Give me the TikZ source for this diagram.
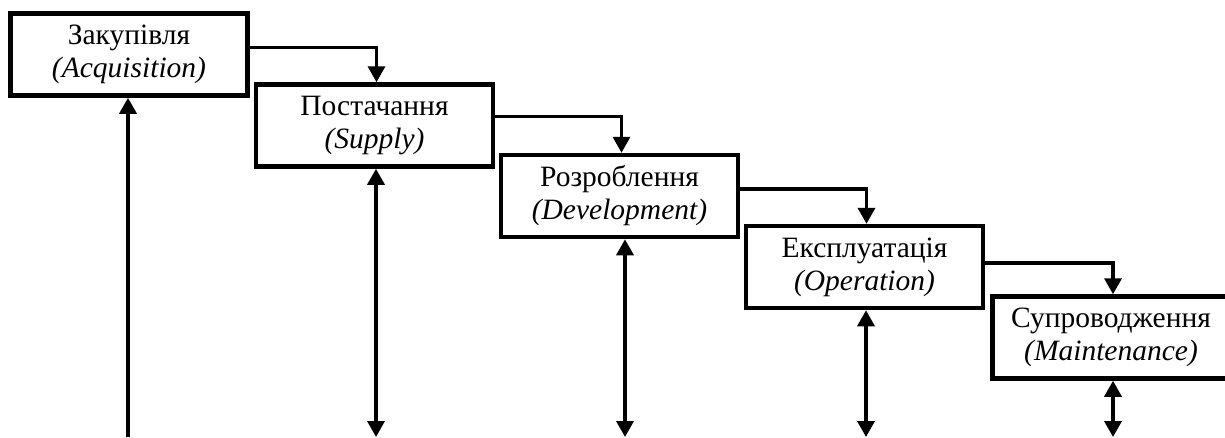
\documentclass[tikz,border=0pt]{standalone}
\usepackage{fontspec}
\setmainfont{Liberation Serif}
\usetikzlibrary{arrows.meta,calc}
\begin{document}
\begin{tikzpicture}[x=1pt,y=-1pt,
  stage/.style={draw,line width=4.5pt,minimum width=237pt,minimum height=82pt,
    align=center,inner sep=0pt,font=\fontsize{29.5}{33}\selectfont},
  conn/.style={line width=3.5pt,-{Triangle[length=16pt,width=17pt]}},
  both/.style={line width=3.5pt,{Triangle[length=16pt,width=17pt]}-{Triangle[length=16pt,width=17pt]}}]
\useasboundingbox (0,0) rectangle (1225,437);
\node[stage] (b1) at (129,54.5) {Закупівля\\\textit{(Acquisition)}};
\node[stage] (b2) at (374.5,125.5) {Постачання\\\textit{(Supply)}};
\node[stage] (b3) at (619.5,196) {Розроблення\\\textit{(Development)}};
\node[stage] (b4) at (864.5,267) {Експлуатація\\\textit{(Operation)}};
\node[stage] (b5) at (1111,337.5) {Супроводження\\\textit{(Maintenance)}};
\draw[conn] ([yshift=7pt]b1.east) -| ([xshift=2pt]b2.north);
\draw[conn] ([yshift=9pt]b2.east) -| ([xshift=2pt]b3.north);
\draw[conn] ([yshift=7pt]b3.east) -| ([xshift=2pt]b4.north);
\draw[conn] ([yshift=4pt]b4.east) -| ([xshift=2pt]b5.north);
\coordinate (g1) at (128,437);
\coordinate (g2) at (376,437);
\coordinate (g3) at (625,437);
\coordinate (g4) at (866,437);
\coordinate (g5) at (1113,437);
\draw[conn] (g1) -- (g1 |- b1.south);
\draw[both] (g2) -- (g2 |- b2.south);
\draw[both] (g3) -- (g3 |- b3.south);
\draw[both] (g4) -- (g4 |- b4.south);
\draw[both] (g5) -- (g5 |- b5.south);
\end{tikzpicture}
\end{document}
